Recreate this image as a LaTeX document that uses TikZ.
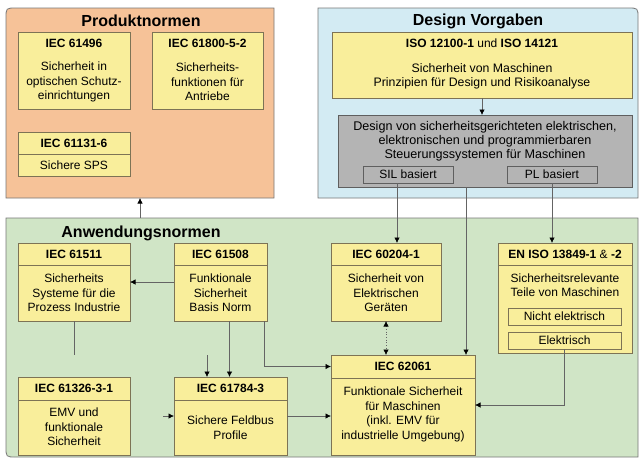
\documentclass[tikz,border=0pt]{standalone}
\usepackage{fontspec}
\setmainfont{Liberation Sans}
\usetikzlibrary{arrows.meta}
\definecolor{prodfill}{RGB}{246,194,152}
\definecolor{desfill}{RGB}{211,235,243}
\definecolor{anwfill}{RGB}{208,229,198}
\definecolor{boxyellow}{RGB}{249,238,155}
\definecolor{boxgray}{RGB}{180,180,180}
\definecolor{boxline}{RGB}{125,115,85}
\definecolor{grayline}{RGB}{95,95,95}
\definecolor{panelline}{RGB}{120,120,120}
\definecolor{linkgray}{RGB}{100,100,100}

\begin{document}
\begin{tikzpicture}[x=1pt,y=-1pt,
    >={Latex[length=5.5pt,width=5.5pt,color=black]},
    panel/.style={draw=panelline,line width=0.8pt},
    title/.style={font=\fontsize{16}{18}\bfseries\selectfont,inner sep=0pt},
    normbox/.style={draw=boxline,fill=boxyellow,line width=0.8pt,anchor=north west,inner sep=0pt,outer sep=0pt},
    headbox/.style={normbox,font=\fontsize{12}{14}\bfseries\selectfont},
    plainhead/.style={headbox,draw=none,fill=none},
    bodytext/.style={font=\fontsize{12}{14.5}\selectfont,align=center,inner sep=0pt},
    graybox/.style={normbox,fill=boxgray,draw=grayline,font=\fontsize{12}{14}\selectfont},
    link/.style={draw=linkgray,line width=0.7pt}]
    \useasboundingbox (0,0) rectangle (639,459);
    \fill[white] (0,0) rectangle (639,459);
    % PANELS
    \draw[panel,fill=prodfill] (6,198) -- (6,18) .. controls (6,8) .. (16,8) -- (274,8) -- (274,198) -- cycle;
    \draw[panel,fill=desfill] (318,198) -- (318,8) -- (628,8) .. controls (638,8) .. (638,18) -- (638,198) -- cycle;
    \draw[panel,fill=anwfill] (6,218) -- (638,218) -- (638,457) -- (16,457) .. controls (6,457) .. (6,447) -- cycle;
    \node[title] (prodtitle) at (141,21) {Produktnormen};
    \node[title] (destitle) at (478,21) {Design Vorgaben};
    \node[title] (anwtitle) at (141,233) {Anwendungsnormen};
    % PRODUKTNORMEN
    \node[normbox,minimum width=112pt,minimum height=77pt] (p61496) at (18,32) {};
    \node[plainhead,minimum width=112pt,minimum height=22pt] (p61496h) at (18,32) {IEC 61496};
    \node[bodytext] (p61496t) at (74,82) {Sicherheit in\\optischen Schutz-\\einrichtungen};
    \node[normbox,minimum width=111pt,minimum height=77pt] (p61800) at (152,32) {};
    \node[plainhead,minimum width=111pt,minimum height=22pt] (p61800h) at (152,32) {IEC 61800-5-2};
    \node[bodytext] (p61800t) at (207.5,82) {Sicherheits-\\funktionen für\\Antriebe};
    \node[normbox,minimum width=112pt,minimum height=44pt] (p61131) at (18,132) {};
    \node[headbox,minimum width=112pt,minimum height=22pt] (p61131h) at (18,132) {IEC 61131-6};
    \node[bodytext] (p61131t) at (74,165) {Sichere SPS};
    % DESIGN VORGABEN
    \node[normbox,minimum width=300pt,minimum height=66pt] (iso) at (332,32) {};
    \node[plainhead,minimum width=300pt,minimum height=22pt] (isoh) at (332,32) {ISO 12100-1 {\mdseries und} ISO 14121};
    \node[bodytext,font=\fontsize{12.3}{13.5}\selectfont] (isot) at (482,76.5) {Sicherheit von Maschinen\\Prinzipien für Design und Risikoanalyse};
    \node[graybox,minimum width=294pt,minimum height=72pt] (design) at (338,115) {};
    \node[bodytext,font=\fontsize{12.6}{14}\selectfont] (designt) at (485,141) {Design von sicherheitsgerichteten elektrischen,\\elektronischen und programmierbaren\\Steuerungssystemen für Maschinen};
    \node[graybox,minimum width=90pt,minimum height=17pt] (sil) at (363,166) {SIL basiert};
    \node[graybox,minimum width=90pt,minimum height=17pt] (pl) at (507,166) {PL basiert};
    % ANWENDUNGSNORMEN
    \node[normbox,minimum width=112pt,minimum height=78pt] (a61511) at (18,243) {};
    \node[headbox,minimum width=112pt,minimum height=22pt] (a61511h) at (18,243) {IEC 61511};
    \node[bodytext] (a61511t) at (74,293) {Sicherheits\\Systeme für die\\Prozess Industrie};
    \node[normbox,minimum width=93pt,minimum height=78pt] (a61508) at (174,243) {};
    \node[headbox,minimum width=93pt,minimum height=22pt] (a61508h) at (174,243) {IEC 61508};
    \node[bodytext] (a61508t) at (220.5,293) {Funktionale\\Sicherheit\\Basis Norm};
    \node[normbox,minimum width=110pt,minimum height=78pt] (a60204) at (331,243) {};
    \node[headbox,minimum width=110pt,minimum height=22pt] (a60204h) at (331,243) {IEC 60204-1};
    \node[bodytext] (a60204t) at (386,293) {Sicherheit von\\Elektrischen\\Geräten};
    \node[normbox,minimum width=134pt,minimum height=110pt] (a13849) at (498,243) {};
    \node[headbox,minimum width=134pt,minimum height=22pt] (a13849h) at (498,243) {EN ISO 13849-1 {\mdseries\&} -2};
    \node[bodytext] (a13849t) at (565,285) {Sicherheitsrelevante\\Teile von Maschinen};
    \node[normbox,font=\fontsize{12}{14}\selectfont,minimum width=113pt,minimum height=17pt] (nicht) at (508,308) {Nicht elektrisch};
    \node[normbox,font=\fontsize{12}{14}\selectfont,minimum width=113pt,minimum height=17pt] (elek) at (508,332) {Elektrisch};
    \node[normbox,minimum width=112pt,minimum height=78pt] (a61326) at (18,377) {};
    \node[headbox,minimum width=112pt,minimum height=23pt] (a61326h) at (18,377) {IEC 61326-3-1};
    \node[bodytext] (a61326t) at (74,427) {EMV und\\funktionale\\Sicherheit};
    \node[normbox,minimum width=113pt,minimum height=78pt] (a61784) at (174,377) {};
    \node[headbox,minimum width=113pt,minimum height=23pt] (a61784h) at (174,377) {IEC 61784-3};
    \node[bodytext] (a61784t) at (230.5,427.5) {Sichere Feldbus\\Profile};
    \node[normbox,minimum width=144pt,minimum height=100pt] (a62061) at (331,355) {};
    \node[headbox,minimum width=144pt,minimum height=23pt] (a62061h) at (331,355) {IEC 62061};
    \node[bodytext] (a62061t) at (403,414.5) {Funktionale Sicherheit\\für Maschinen\\(inkl. EMV für\\industrielle Umgebung)};
    % CONNECTORS
    \coordinate (prodbot) at (140,198);
    \coordinate (anwtop) at (140,218);
    \coordinate (ipend) at (74,355);
    \coordinate (busin) at (207,355);
    \coordinate (busleft) at (163,416);
    \draw[link,->] (anwtop) -- (prodbot);
    \draw[link,->] (iso.south) -- (iso.south |- design.north);
    \draw[link,->] ([xshift=-11pt]sil.south) -- ([xshift=-11pt]sil.south |- a60204.north);
    \draw[link,->] ([xshift=-19pt]design.south) -- ([xshift=-19pt]design.south |- a62061.north);
    \draw[link,->] (pl.south) -- (pl.south |- a13849.north);
    \draw[link,->] (a61508.west) -- (a61511.east);
    \draw[link] (a61511.south) -- (ipend);
    \draw[link,->] (busin) -- (busin |- a61784.north);
    \draw[link,->] ([xshift=9pt]a61508.south) -- ([xshift=9pt]a61508.south |- a61784.north);
    \draw[link,->] (busleft) -- (busleft -| a61784.west);
    \draw[link,->] ([xshift=-3pt]a61508.south east) |- (a62061h.west);
    \draw[link,->] (a61784.east) -- (a61784.east -| a62061.west);
    \draw[link,<->,dotted] (a60204.south) -- (a60204.south |- a62061.north);
    \draw[link,->] (elek.south) |- (a62061.east);
\end{tikzpicture}
\end{document}
